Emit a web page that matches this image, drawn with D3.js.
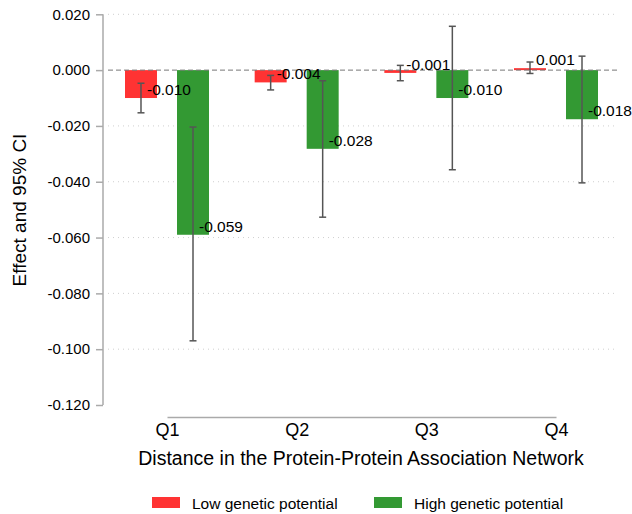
<!DOCTYPE html>
<html lang="en">
<head>
    <meta charset="UTF-8">
    <title>Effect by PPI distance</title>
    <style>
        body { margin: 0; background: #fff; }
        svg { display: block; font-family: 'Liberation Sans', Arial, sans-serif; }
        .grid { stroke: #cfcfcf; stroke-width: 1; stroke-dasharray: 1 4; }
        .zero { stroke: #777; stroke-width: 1; stroke-dasharray: 5 3; }
        .ci { stroke: #555; stroke-width: 1.5; fill: none; }
        .vlabel { font-size: 15.5px; fill: #000; }
    </style>
</head>
<body>
<svg id="chart" width="632" height="514"></svg>
<script src="https://d3js.org/d3.v7.min.js"></script>
<script>
    const categories = ['Q1', 'Q2', 'Q3', 'Q4'];
    const lowEst  = [-0.0100, -0.0044, -0.0010, 0.0007];
    const lowLo   = [-0.0153, -0.0071, -0.0038, -0.0012];
    const lowHi   = [-0.0047, -0.0019, 0.0017, 0.0029];
    const highEst = [-0.0590, -0.0282, -0.0100, -0.0176];
    const highLo  = [-0.0970, -0.0527, -0.0357, -0.0404];
    const highHi  = [-0.0204, -0.0038, 0.0157, 0.0050];
    const yTicks  = [0.02, 0, -0.02, -0.04, -0.06, -0.08, -0.10, -0.12];
    const seriesNames = ['Low genetic potential', 'High genetic potential'];
    const seriesColors = ['#ff3333', '#339933'];

    const fmt = v => d3.format('.3f')(v).replace('\u2212', '-');

    const svg = d3.select('#chart');

    const x = d3.scalePoint().domain(categories).range([167, 556]);
    const sub = d3.scaleBand().domain(['low', 'high']).range([-42, 42]).paddingInner(0.385);
    const y = d3.scaleLinear().domain([-0.12, 0.02]).range([405, 14.3]);

    // gridlines (skip zero, which gets the dashed reference line, and the bottom)
    svg.append('g').selectAll('line')
        .data(yTicks.filter(t => t !== 0 && t > -0.12))
        .join('line')
        .attr('class', 'grid')
        .attr('x1', 108).attr('x2', 618)
        .attr('y1', d => y(d)).attr('y2', d => y(d));

    // y axis
    const yAxis = svg.append('g')
        .attr('transform', 'translate(103,0)')
        .call(d3.axisLeft(y).tickValues(yTicks).tickSize(7).tickPadding(6).tickFormat(fmt));
    yAxis.select('.domain').attr('stroke', '#aaa').attr('stroke-width', 1.5)
        .attr('d', `M0,${y(0.02)}V${y(-0.12)}`);
    yAxis.selectAll('.tick line').attr('stroke', '#aaa').attr('stroke-width', 1.5);
    yAxis.selectAll('.tick text').attr('font-size', '15px').attr('fill', '#000')
        .attr('font-family', "'Liberation Sans', Arial, sans-serif");

    // x axis
    const xAxis = svg.append('g')
        .attr('transform', 'translate(0,417)')
        .call(d3.axisBottom(x).tickSize(0).tickPadding(6));
    xAxis.select('.domain').attr('stroke', '#aaa').attr('stroke-width', 1.5);
    xAxis.selectAll('.tick text').attr('font-size', '18px').attr('fill', '#000')
        .attr('font-family', "'Liberation Sans', Arial, sans-serif");

    // data rows
    const rows = [];
    categories.forEach((c, i) => {
        rows.push({ cat: c, key: 'low', est: lowEst[i], lo: lowLo[i], hi: lowHi[i], color: seriesColors[0] });
        rows.push({ cat: c, key: 'high', est: highEst[i], lo: highLo[i], hi: highHi[i], color: seriesColors[1] });
    });
    const cx = d => x(d.cat) + sub(d.key) + sub.bandwidth() / 2;

    // bars
    svg.append('g').selectAll('rect')
        .data(rows)
        .join('rect')
        .attr('x', d => x(d.cat) + sub(d.key))
        .attr('width', sub.bandwidth())
        .attr('y', d => y(Math.max(0, d.est)))
        .attr('height', d => Math.max(1.5, Math.abs(y(d.est) - y(0))))
        .attr('fill', d => d.color);

    // zero reference line
    svg.append('line')
        .attr('class', 'zero')
        .attr('x1', 108).attr('x2', 618)
        .attr('y1', y(0)).attr('y2', y(0));

    // confidence intervals
    const ci = svg.append('g').selectAll('g')
        .data(rows)
        .join('g')
        .attr('class', 'ci');
    ci.append('line')
        .attr('x1', cx).attr('x2', cx)
        .attr('y1', d => y(d.hi)).attr('y2', d => y(d.lo));
    ci.append('line')
        .attr('x1', d => cx(d) - 3.5).attr('x2', d => cx(d) + 3.5)
        .attr('y1', d => y(d.hi)).attr('y2', d => y(d.hi));
    ci.append('line')
        .attr('x1', d => cx(d) - 3.5).attr('x2', d => cx(d) + 3.5)
        .attr('y1', d => y(d.lo)).attr('y2', d => y(d.lo));

    // value labels
    svg.append('g').selectAll('text')
        .data(rows)
        .join('text')
        .attr('class', 'vlabel')
        .attr('x', d => cx(d) + 6)
        .attr('y', d => y(d.est) - 3)
        .text(d => fmt(d.est));

    // axis titles
    svg.append('text')
        .attr('transform', 'translate(26,210) rotate(-90)')
        .attr('text-anchor', 'middle')
        .attr('font-size', '19px')
        .text('Effect and 95% CI');
    svg.append('text')
        .attr('x', 361).attr('y', 465)
        .attr('text-anchor', 'middle')
        .attr('font-size', '19.5px')
        .text('Distance in the Protein-Protein Association Network');

    // legend
    const legend = svg.append('g').selectAll('g')
        .data(seriesNames)
        .join('g')
        .attr('transform', (d, i) => `translate(${[152, 374][i]},497)`);
    legend.append('rect')
        .attr('width', 28).attr('height', 11)
        .attr('fill', (d, i) => seriesColors[i]);
    legend.append('text')
        .attr('x', 40).attr('y', 11.5)
        .attr('font-size', '15.5px')
        .text(d => d);
</script>
</body>
</html>
